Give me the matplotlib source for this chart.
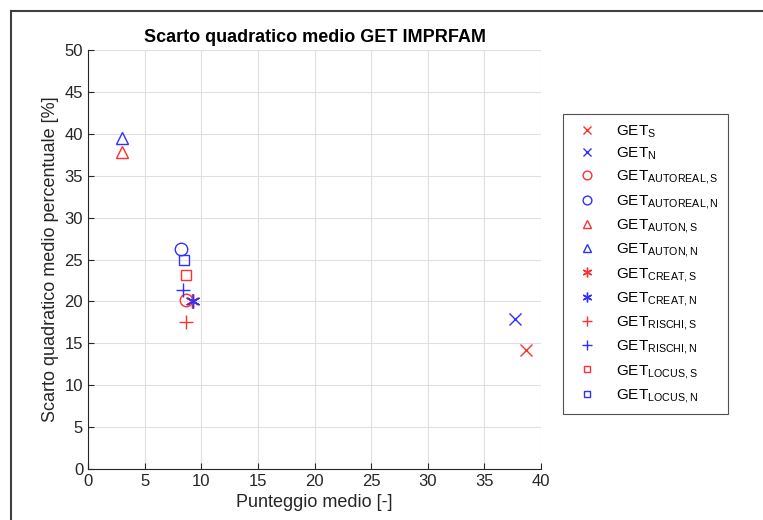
import matplotlib
matplotlib.use('Agg')
import matplotlib.pyplot as plt
from matplotlib.lines import Line2D

plt.rcParams['font.family'] = ['Liberation Sans', 'DejaVu Sans']
plt.rcParams['mathtext.fontset'] = 'custom'
plt.rcParams['mathtext.rm'] = 'Liberation Sans'
plt.rcParams['mathtext.it'] = 'Liberation Sans'

# --- data ---
labels = ['S', 'N', 'AUTOREAL,S', 'AUTOREAL,N', 'AUTON,S', 'AUTON,N',
          'CREAT,S', 'CREAT,N', 'RISCHI,S', 'RISCHI,N', 'LOCUS,S', 'LOCUS,N']
punteggio = [38.7, 37.7, 8.66, 8.2, 3.03, 3.03, 9.2, 9.24, 8.66, 8.36, 8.66, 8.48]
scarto = [14.2, 17.9, 20.2, 26.3, 37.8, 39.5, 20.0, 20.0, 17.5, 21.4, 23.2, 25.0]
markers = ['x', 'x', 'o', 'o', '^', '^', (6, 2, 0), (6, 2, 0), '+', '+', 's', 's']
msizes = [8, 8, 9, 9, 9, 9, 10, 10, 10, 10, 7, 7]
colors = ['#ff3030', '#3030ff'] * 6

fig = plt.figure(figsize=(7.63, 5.2), dpi=100)
ax = fig.add_axes([88/763, 1-469/520, (541-88)/763, (469-50)/520])

for lab, px, py, m, ms, c in zip(labels, punteggio, scarto, markers, msizes, colors):
    ax.plot(px, py, linestyle='none', marker=m, ms=ms, mfc='none', mec=c,
            mew=1.0, label='GET$_{\\mathrm{' + lab + '}}$')

ax.set_xlim(0, 40)
ax.set_ylim(0, 50)
ax.set_xticks(range(0, 41, 5))
ax.set_yticks(range(0, 51, 5))
ax.grid(True, color='#e0e0e0', linewidth=0.8)
ax.set_axisbelow(True)
for s in ['top', 'right']:
    ax.spines[s].set_visible(False)
for s in ['left', 'bottom']:
    ax.spines[s].set_color('#262626')
    ax.spines[s].set_linewidth(0.8)
ax.tick_params(direction='in', length=4, colors='#262626', labelsize=12, width=0.8)
ax.set_xlabel('Punteggio medio [-]', fontsize=13, color='#262626')
ax.set_ylabel('Scarto quadratico medio percentuale [%]', fontsize=13, color='#262626')
ax.set_title('Scarto quadratico medio GET IMPRFAM', fontsize=13, fontweight='bold', pad=6)

leg = ax.legend(loc='upper left', bbox_to_anchor=(563/763, 1-114/520),
                bbox_transform=fig.transFigure, fontsize=11, frameon=True,
                fancybox=False, edgecolor='#262626', borderpad=0.6,
                labelspacing=0.41, handletextpad=0.9, handlelength=2.0,
                markerscale=0.7, borderaxespad=0)
leg.get_frame().set_linewidth(0.8)

# outer frame (cropped)
x0, y0 = 11/763, 1-11/520
fig.add_artist(Line2D([x0, 1.0], [y0, y0], transform=fig.transFigure, color='#404040', lw=1.5))
fig.add_artist(Line2D([x0, x0], [0.0, y0], transform=fig.transFigure, color='#404040', lw=1.5))

fig.savefig('out.png', dpi=100)
